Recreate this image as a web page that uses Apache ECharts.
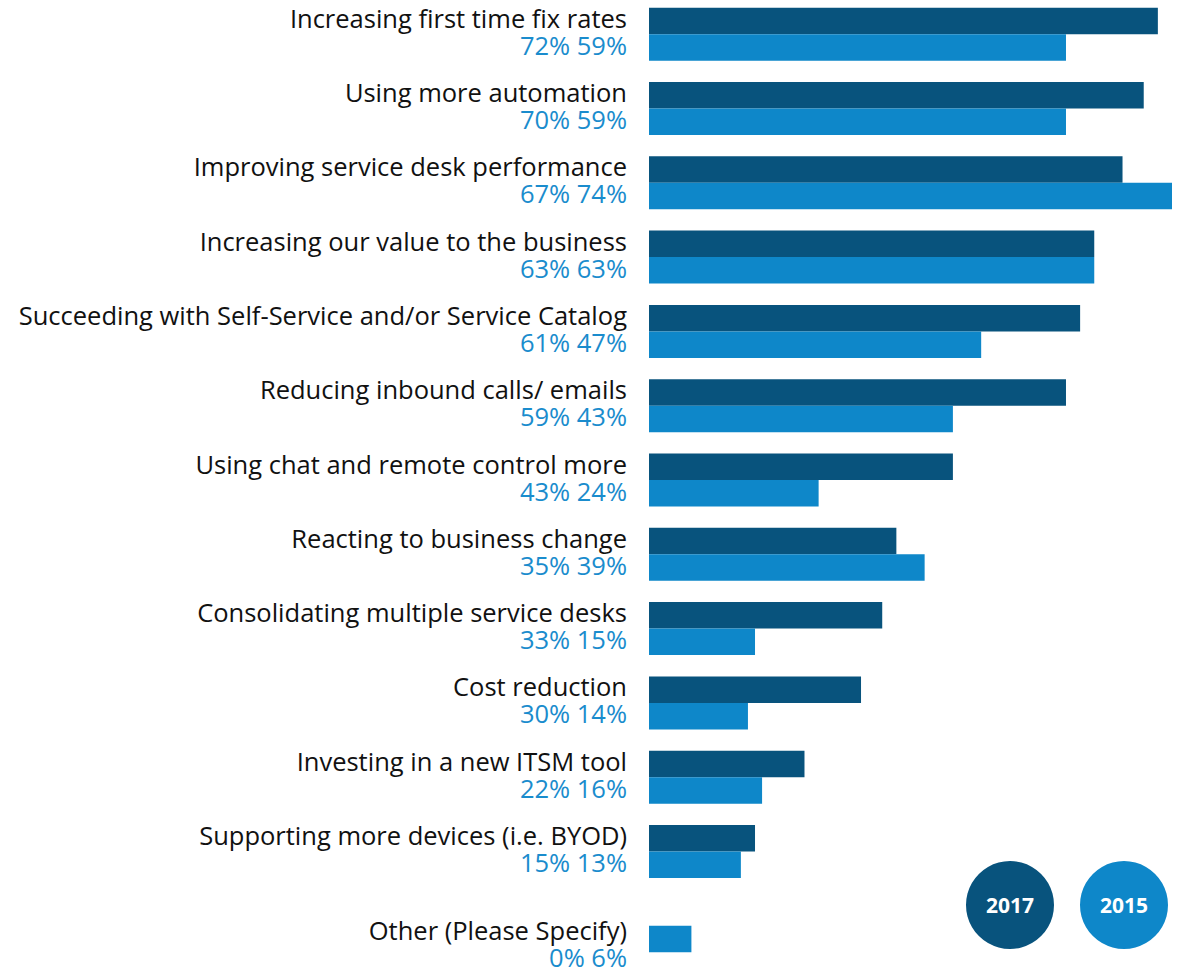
<!DOCTYPE html>
<html>
<head>
<meta charset="utf-8">
<script src="https://cdn.jsdelivr.net/npm/echarts@6/dist/echarts.min.js"></script>
<style>
  html, body { margin: 0; padding: 0; background: #fff; }
  #chart { width: 1178px; height: 968px; }
</style>
</head>
<body>
<div id="chart"></div>
<script>
// categories, top to bottom
var categories = [
  'Increasing first time fix rates',
  'Using more automation',
  'Improving service desk performance',
  'Increasing our value to the business',
  'Succeeding with Self-Service and/or Service Catalog',
  'Reducing inbound calls/ emails',
  'Using chat and remote control more',
  'Reacting to business change',
  'Consolidating multiple service desks',
  'Cost reduction',
  'Investing in a new ITSM tool',
  'Supporting more devices (i.e. BYOD)',
  'Other (Please Specify)'
]
var values2017 = [72, 70, 67, 63, 61, 59, 43, 35, 33, 30, 22, 15, 0]
var values2015 = [59, 59, 74, 63, 47, 43, 24, 39, 15, 14, 16, 13, 6]
var seriesNames = ['2017', '2015']

var darkBlue = '#08537d'
var lightBlue = '#0e87c9'

var chart = echarts.init(document.getElementById('chart'), null, { renderer: 'svg' })

chart.setOption({
  animation: false,
  grid: {
    left: 649,
    right: 6,
    top: -3,
    bottom: 5,
    outerBoundsMode: 'none'
  },
  xAxis: {
    type: 'value',
    min: 0,
    max: 74,
    show: false
  },
  yAxis: {
    type: 'category',
    inverse: true,
    data: categories,
    axisLine: { show: false },
    axisTick: { show: false },
    splitLine: { show: false },
    axisLabel: {
      margin: 22,
      align: 'right',
      padding: [0, 0, 6, 0],
      fontFamily: 'Open Sans',
      formatter: function (value, index) {
        var pct = values2017[index] + '% ' + values2015[index] + '%'
        var txt = '{n|' + value + '}\n{p|' + pct + '}'
        // last label sits lower, beside the lone 2015 bar
        if (index === categories.length - 1) {
          txt = '{gap| }\n' + txt
        }
        return txt
      },
      rich: {
        n: { fontSize: 25.5, color: '#111', lineHeight: 27, align: 'right', fontFamily: 'Open Sans' },
        p: { fontSize: 25.5, color: '#1a8ccd', lineHeight: 27, align: 'right', fontFamily: 'Open Sans' },
        gap: { fontSize: 10, lineHeight: 41, align: 'right' }
      }
    }
  },
  series: [
    {
      name: seriesNames[0],
      type: 'bar',
      data: values2017,
      barWidth: 26.5,
      barGap: '0%',
      itemStyle: { color: darkBlue }
    },
    {
      name: seriesNames[1],
      type: 'bar',
      data: values2015,
      barWidth: 26.5,
      barGap: '0%',
      itemStyle: { color: lightBlue }
    }
  ],
  // legend drawn as two filled circles
  graphic: [
    {
      type: 'circle',
      shape: { cx: 1010, cy: 905, r: 44 },
      style: { fill: darkBlue }
    },
    {
      type: 'text',
      x: 1010,
      y: 905,
      style: {
        text: seriesNames[0],
        fill: '#fff',
        font: 'bold 21px "Open Sans"',
        textAlign: 'center',
        textVerticalAlign: 'middle'
      }
    },
    {
      type: 'circle',
      shape: { cx: 1124, cy: 905, r: 44 },
      style: { fill: lightBlue }
    },
    {
      type: 'text',
      x: 1124,
      y: 905,
      style: {
        text: seriesNames[1],
        fill: '#fff',
        font: 'bold 21px "Open Sans"',
        textAlign: 'center',
        textVerticalAlign: 'middle'
      }
    }
  ]
})
</script>
</body>
</html>
